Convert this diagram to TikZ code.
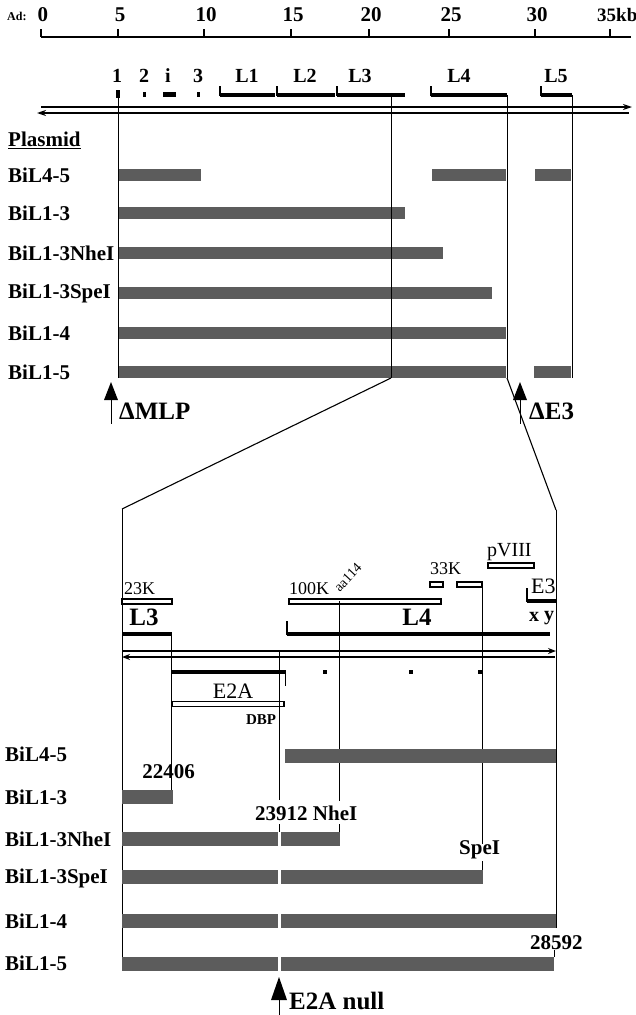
\documentclass[tikz,border=0pt]{standalone}
\usepackage{fontspec}
\setmainfont{Liberation Serif}
\usetikzlibrary{arrows.meta}
\definecolor{barc}{RGB}{92,92,92}
\newcommand\fsz[1]{\fontsize{#1}{#1}\selectfont}
\tikzset{
  lbl/.style={font=\bfseries\fsz{21}, inner sep=0pt},
  glbl/.style={font=\bfseries\fsz{20}, inner sep=0pt},
  sml/.style={font=\fsz{18}, inner sep=0pt},
  big/.style={font=\bfseries\fsz{25}, inner sep=0pt},
  num/.style={font=\bfseries\fsz{21}, inner sep=0pt},
  pbar/.style={fill=barc, draw=none},
  obar/.style={draw=black, line width=1.4pt, fill=white},
  gene/.style={line width=4pt},
  gtick/.style={line width=1.4pt},
  vl/.style={line width=0.9pt},
  dna/.style={line width=1.5pt},
  tip/.style={fill=black},
}
\begin{document}
\begin{tikzpicture}[x=1pt,y=-1pt]
\useasboundingbox (0,0) rectangle (636,1015);
% ---------- scale bar ----------
\node[font=\bfseries\fsz{12}, inner sep=0pt, anchor=west] (ad) at (7,16) {Ad:};
\draw[line width=1.8pt] (41,37) -- (631,37);
\foreach \x/\t in {41/0,118/5,204/10,291/15,369/20,449/25,535/30}{
  \draw[gtick] (\x,37) -- (\x,29);
  \node[font=\bfseries\fsz{21}, inner sep=0pt] (tk\t) at (\x+2,15) {\t};
}
\draw[gtick] (610,37) -- (610,29);
\node[font=\bfseries\fsz{19}, inner sep=0pt, anchor=west] (tk35) at (597,15) {35kb};
% ---------- genes ----------
\foreach \x/\t in {117/1,144/2,168/i,198/3}{
  \node[glbl] (g\t) at (\x,76) {\t};
}
\foreach \x/\t in {247/L1,305/L2,360/L3,459/L4,556/L5}{
  \node[glbl] (g\t) at (\x,76) {\t};
}
\fill (116,90) rectangle (120,98);
\fill (142.5,92) rectangle (145.5,97);
\fill (163,92) rectangle (176,97);
\fill (196.5,92) rectangle (199.5,97);
\draw[gene] (220,95) -- (275,95);  \draw[gtick] (220,96) -- (220,86);
\draw[gene] (277,95) -- (335,95);  \draw[gtick] (277,96) -- (277,86);
\draw[gene] (337,95) -- (405,95);  \draw[gtick] (337,96) -- (337,86);
\draw[gene] (431,95) -- (507,95);  \draw[gtick] (431,96) -- (431,86);
\draw[gene] (541,95) -- (572,95);  \draw[gtick] (541,96) -- (541,86);
% DNA arrows
\draw[dna,-{Stealth[length=9pt,width=6pt]}] (41,107) -- (632,107);
\draw[dna,{Stealth[length=9pt,width=6pt]}-] (37,113) -- (629,113);
% ---------- upper plasmids ----------
\node[lbl, anchor=west] (plasmid) at (8,140) {\underline{Plasmid}};
\node[lbl, anchor=west] (u1) at (8,175) {BiL4-5};
\node[lbl, anchor=west] (u2) at (8,213) {BiL1-3};
\node[lbl, anchor=west] (u3) at (8,253) {BiL1-3NheI};
\node[lbl, anchor=west] (u4) at (8,293) {BiL1-3SpeI};
\node[lbl, anchor=west] (u5) at (8,333) {BiL1-4};
\node[lbl, anchor=west] (u6) at (8,372) {BiL1-5};
\fill[pbar] (118,169) rectangle (201,181);
\fill[pbar] (432,169) rectangle (506,181);
\fill[pbar] (535,169) rectangle (571,181);
\fill[pbar] (118,207) rectangle (405,219);
\fill[pbar] (118,247) rectangle (443,259);
\fill[pbar] (118,287) rectangle (492,299);
\fill[pbar] (118,327) rectangle (506,339);
\fill[pbar] (118,366) rectangle (506,378);
\fill[pbar] (534,366) rectangle (571,378);
\draw[vl] (118,90) -- (118,378);
\draw[vl] (391,95) -- (391,378);
\draw[vl] (507,95) -- (507,378);
\draw[vl] (572,95) -- (572,378);
% zoom lines
\draw[line width=1.1pt] (391,378) -- (122,509);
\draw[line width=1.1pt] (507,378) -- (556,510);
% deletion arrows
\fill[tip] (104,400) -- (111,382) -- (118,400) -- cycle;
\draw[line width=1pt] (111,399) -- (111,424);
\node[big, anchor=west] (dmlp) at (119,411) {ΔMLP};
\fill[tip] (513,400) -- (520,382) -- (527,400) -- cycle;
\draw[line width=1pt] (520,399) -- (520,424);
\node[big, anchor=west] (de3) at (529,411) {ΔE3};
% ---------- lower panel ----------
\draw[vl] (122,509) -- (122,971);
\draw[vl] (556,510) -- (556,928);
\draw[vl] (554,950) -- (554,957);
% genes lower
\node[sml, anchor=west] (k23) at (124,589) {23K};
\draw[obar] (122,599) rectangle (172,604);
\node[font=\bfseries\fsz{25}, inner sep=0pt] (l3) at (144,617) {L3};
\draw[line width=4.5pt] (122,634) -- (171.5,634);
\node[sml, anchor=west] (k100) at (289,589) {100K};
\draw[obar] (289,599) rectangle (441,604);
\node[font=\fsz{14}, inner sep=0pt, rotate=47, anchor=south west] (aa) at (340,593) {aa114};
\node[sml, anchor=west] (k33) at (430,569) {33K};
\draw[obar] (430,582) rectangle (443,587);
\draw[obar] (457,582) rectangle (482,587);
\node[font=\fsz{20}, inner sep=0pt, anchor=west] (p8) at (487,552) {pVIII};
\draw[obar] (488,563) rectangle (534,568);
\node[font=\fsz{22}, inner sep=0pt, anchor=west] (e3) at (531,586) {E3};
\draw[line width=4pt] (527,601) -- (556,601);
\draw[gtick] (527,602) -- (527,588);
\node[font=\bfseries\fsz{25}, inner sep=0pt] (l4) at (417,617) {L4};
\draw[line width=4.5pt] (287,634) -- (550,634);
\draw[gtick] (287,635) -- (287,621);
\node[font=\bfseries\fsz{20}, inner sep=0pt] (gx) at (534,617) {x};
\node[font=\bfseries\fsz{20}, inner sep=0pt] (gy) at (549,618) {y};
\draw[dna,-{Stealth[length=8pt,width=6pt]}] (123,651) -- (556,651);
\draw[dna,{Stealth[length=8pt,width=6pt]}-] (122,657) -- (555,657);
\draw[line width=3.5pt] (172,672) -- (285.5,672);
\draw[gtick] (285.5,671) -- (285.5,686);
\node[font=\fsz{22}, inner sep=0pt] (e2a) at (233,691) {E2A};
\draw[obar] (172,701.5) rectangle (284,706.5);
\node[font=\bfseries\fsz{15}, inner sep=0pt] (dbp) at (261,720) {DBP};
\fill (323,670) rectangle (327,674);
\fill (409,670) rectangle (413,674);
\fill (478,670) rectangle (482,674);
% marker lines
\draw[vl] (171.5,634) -- (171.5,790);
\draw[vl] (279,651) -- (279,800);
\draw[vl] (279,824) -- (279,832);
\draw[vl] (339.5,601) -- (339.5,801);
\draw[vl] (339.5,824) -- (339.5,832);
\draw[vl] (482,587) -- (482,844);
\draw[vl] (482,861) -- (482,870);
% lower plasmids
\node[lbl, anchor=west] (d1) at (5,754) {BiL4-5};
\node[lbl, anchor=west] (d2) at (5,797) {BiL1-3};
\node[lbl, anchor=west] (d3) at (5,839) {BiL1-3NheI};
\node[lbl, anchor=west] (d4) at (5,878) {BiL1-3SpeI};
\node[lbl, anchor=west] (d5) at (5,921) {BiL1-4};
\node[lbl, anchor=west] (d6) at (5,963) {BiL1-5};
\fill[pbar] (284.5,749) rectangle (556,763);
\fill[pbar] (122,790) rectangle (173,804);
\fill[pbar] (122,832) rectangle (278,846);
\fill[pbar] (281,832) rectangle (339.5,846);
\fill[pbar] (122,870) rectangle (278,884);
\fill[pbar] (281,870) rectangle (482.5,884);
\fill[pbar] (122,914) rectangle (278,928);
\fill[pbar] (281,914) rectangle (556,928);
\fill[pbar] (122,957) rectangle (278,971);
\fill[pbar] (281,957) rectangle (554,971);
% numbers
\node[num] (n22406) at (168.5,772) {22406};
\node[num, anchor=west] (n23912) at (255,813) {23912 NheI};
\node[num, anchor=west] (spe) at (459,850) {SpeI};
\node[num, anchor=west] (n28592) at (530,943) {28592};
% E2A null
\fill[tip] (271,1000) -- (279,977) -- (287,1000) -- cycle;
\draw[line width=1pt] (279,999) -- (279,1015);
\node[big, anchor=west] (e2an) at (289,1001) {E2A null};
\end{tikzpicture}
\end{document}
